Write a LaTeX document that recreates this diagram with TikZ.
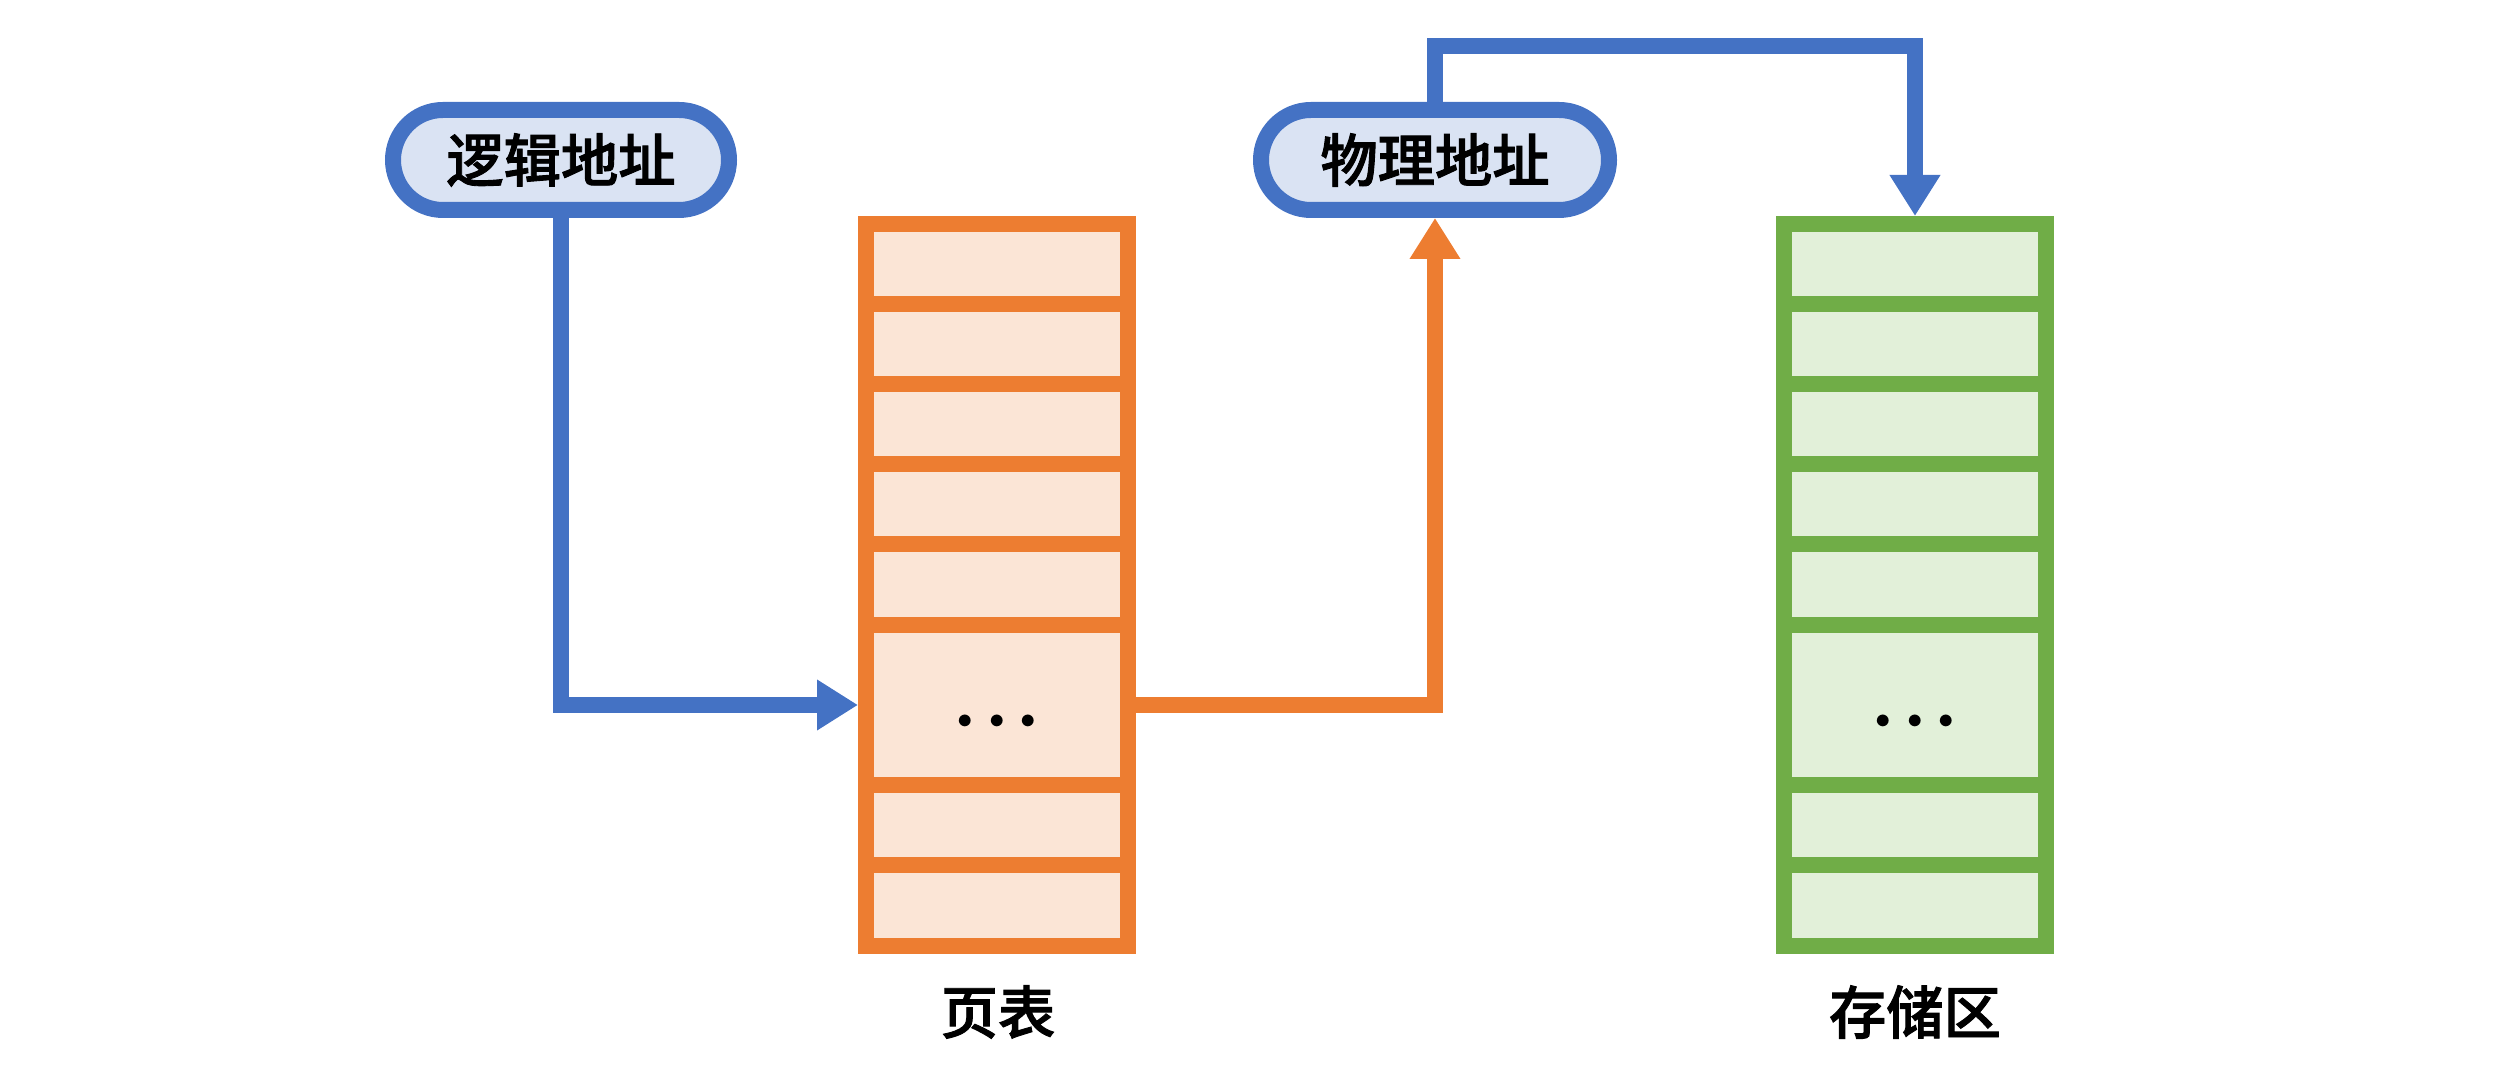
\documentclass[tikz,border=0pt]{standalone}
\usepackage{fontspec}
\newfontfamily\cjk{Noto Sans CJK SC}[UprightFont={* Medium}, UprightFeatures={FakeBold=1.6}]
\usetikzlibrary{positioning,arrows.meta}
\definecolor{msBlue}{HTML}{4472C4}
\definecolor{msBlueFill}{HTML}{DAE3F3}
\definecolor{msOrange}{HTML}{ED7D31}
\definecolor{msOrangeFill}{HTML}{FBE5D6}
\definecolor{msGreen}{HTML}{70AD47}
\definecolor{msGreenFill}{HTML}{E2F0D9}
\newcommand{\rowdots}{\textbullet\hspace{-0.6pt}\textbullet\hspace{-0.6pt}\textbullet}
\tikzset{
  addrpill/.style={rectangle, rounded corners=5mm, draw=msBlue, line width=1.6mm,
    fill=msBlueFill, minimum height=1cm, inner sep=0pt,
    font=\cjk\fontsize{16.3pt}{19pt}\selectfont},
  tblbox/.style={rectangle, line width=1.6mm, minimum width=2.62cm,
    minimum height=7.22cm, inner sep=0pt},
  tblline/.style={line width=1.6mm},
  dotstext/.style={anchor=base, inner sep=0pt, font=\fontsize{12.5pt}{14pt}\selectfont},
  caption/.style={inner sep=0pt, font=\cjk\fontsize{16.3pt}{19pt}\selectfont},
  bluelink/.style={-{Triangle[length=4.1mm, width=4.8mm]}, line width=1.6mm, msBlue},
  orangelink/.style={-{Triangle[length=4.1mm, width=4.8mm]}, line width=1.6mm, msOrange},
}

\begin{document}
\begin{tikzpicture}
\useasboundingbox (0,0) rectangle (24.99,10.65);

% ---------- addresses ----------
\node[addrpill, minimum width=3.36cm] (logic) at (5.61,9.05) {逻辑地址};
\node[addrpill, minimum width=3.48cm] (phys) at (14.35,9.05) {物理地址};

% ---------- page table ----------
\node[tblbox, draw=msOrange, fill=msOrangeFill] (pagetab) at (9.97,4.80) {};
\foreach \y in {7.61,6.81,6.01,5.21,4.40,2.80,2.00}
  \draw[tblline, msOrange] (pagetab.west |- 0,\y) -- (pagetab.east |- 0,\y);
\coordinate (ptrow) at (9.97,3.60);
\node[dotstext] (ptdots) at (9.97,3.33) {\rowdots};
\node[caption] (ptcap) at (9.98,0.53) {页表};

% ---------- storage ----------
\node[tblbox, draw=msGreen, fill=msGreenFill] (store) at (19.15,4.80) {};
\foreach \y in {7.61,6.81,6.01,5.21,4.40,2.80,2.00}
  \draw[tblline, msGreen] (store.west |- 0,\y) -- (store.east |- 0,\y);
\node[dotstext] (ssdots) at (19.15,3.33) {\rowdots};
\node[caption] (sscap) at (19.15,0.53) {存储区};

% ================= links =================
\draw[bluelink] (logic.south) |- (pagetab.west |- ptrow);
\draw[orangelink] (pagetab.east |- ptrow) -| (phys.south);
\draw[bluelink] (phys.north) -- ++(0,0.56) -| (store.north);

\end{tikzpicture}
\end{document}
